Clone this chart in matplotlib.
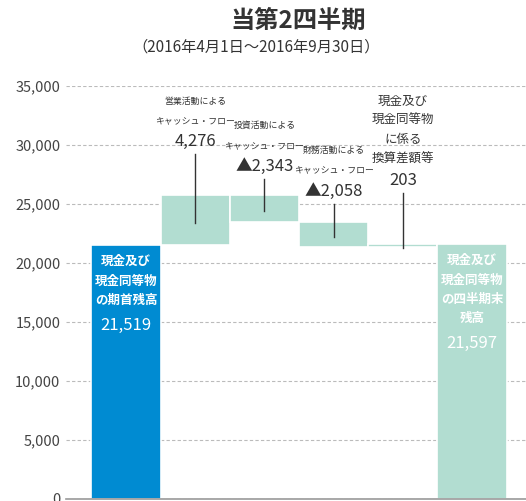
import numpy as np
import matplotlib.pyplot as plt

plt.rcParams['font.family'] = ['Noto Sans CJK JP', 'DejaVu Sans']

# ----------------------------------------------------------------------
# data (millions of yen)
categories = ['期首残高', '営業CF', '投資CF', '財務CF', '換算差額', '期末残高']
values = [21519, 4276, -2343, -2058, 203, 21597]
is_total = [True, False, False, False, False, True]

step_titles = [
    None,
    '営業活動による\nキャッシュ・フロー',
    '投資活動による\nキャッシュ・フロー',
    '財務活動による\nキャッシュ・フロー',
    '現金及び\n現金同等物\nに係る\n換算差額等',
    None,
]
step_numbers = [None, '4,276', '▲2,343', '▲2,058', '203', None]
total_titles = ['現金及び\n現金同等物\nの期首残高', None, None, None, None,
                '現金及び\n現金同等物\nの四半期末\n残高']
total_numbers = ['21,519', None, None, None, None, '21,597']

yticks = [0, 5000, 10000, 15000, 20000, 25000, 30000, 35000]
# ----------------------------------------------------------------------

BLUE = '#008bd2'
TEAL = '#b2ddd1'
TXT = '#333333'
# where the leader line of each step label ends (data units)
label_top = [None, 29200, 27100, 25000, 25900, None]

fig = plt.figure(figsize=(5.26, 5.01), dpi=100)
ax = fig.add_axes([66 / 526, 2 / 501, 460 / 526, 413 / 501])

# waterfall bottoms / tops
bottoms, heights = [], []
running = 0
for v, tot in zip(values, is_total):
    if tot:
        bottoms.append(0)
        heights.append(v)
        running = v
    else:
        lo = min(running, running + v)
        bottoms.append(lo)
        heights.append(abs(v))
        running += v

x = np.arange(len(categories))
colors = [BLUE] + [TEAL] * (len(categories) - 1)
ax.bar(x, heights, bottom=bottoms, width=1.0, color=colors,
       edgecolor='white', linewidth=1.2, zorder=2)

# step labels with leader lines
for i in x:
    if step_numbers[i] is None:
        continue
    mid = bottoms[i] + heights[i] / 2 - 250
    ax.plot([i, i], [mid, label_top[i]], color='#333333', lw=1.0, zorder=3)
    ax.annotate(step_numbers[i], (i, label_top[i]), xytext=(0, 13),
                textcoords='offset pixels', ha='center', va='center',
                fontsize=12, color=TXT, annotation_clip=False)
    lines = step_titles[i].split('\n')
    fs = 9 if len(lines) > 2 else 6.4
    for k, ln in enumerate(reversed(lines)):
        ax.annotate(ln, (i, label_top[i]), xytext=(0, 34 + 19.5 * k),
                    textcoords='offset pixels', ha='center', va='center',
                    fontsize=fs, color=TXT, annotation_clip=False)

# text inside the total bars
for i in x:
    if total_titles[i] is None:
        continue
    top = bottoms[i] + heights[i]
    lines = total_titles[i].split('\n')
    for k, ln in enumerate(lines):
        ax.annotate(ln, (i, top), xytext=(0, -16.5 - 19.3 * k),
                    textcoords='offset pixels', ha='center', va='center',
                    fontsize=9, fontweight='bold', color='white')
    ax.annotate(total_numbers[i], (i, top),
                xytext=(0, -16.5 - 19.3 * (len(lines) - 1) - 25),
                textcoords='offset pixels', ha='center', va='center',
                fontsize=12, color='white')

ax.set_xlim(-0.867, 5.78)
ax.set_ylim(0, 35000)
ax.set_yticks(yticks)
ax.set_yticklabels([f'{t:,}' for t in yticks], fontsize=10.5, color='#444444')
ax.set_xticks([])
ax.tick_params(axis='y', length=0, pad=4)
ax.grid(axis='y', color='#bbbbbb', linestyle=(0, (3, 2)), linewidth=0.8, zorder=0)
ax.set_axisbelow(True)
for s in ['top', 'right', 'left']:
    ax.spines[s].set_visible(False)
ax.spines['bottom'].set_color('#999999')
ax.spines['bottom'].set_linewidth(1.2)

fig.text(298 / 526, 1 - 21 / 501, '当第2四半期', ha='center', va='center',
         fontsize=17.5, fontweight='bold', color=TXT)
fig.text(256 / 526, 1 - 47 / 501, '（2016年4月1日～2016年9月30日）',
         ha='center', va='center', fontsize=11, color=TXT)

fig.savefig('out.png', dpi=100)
